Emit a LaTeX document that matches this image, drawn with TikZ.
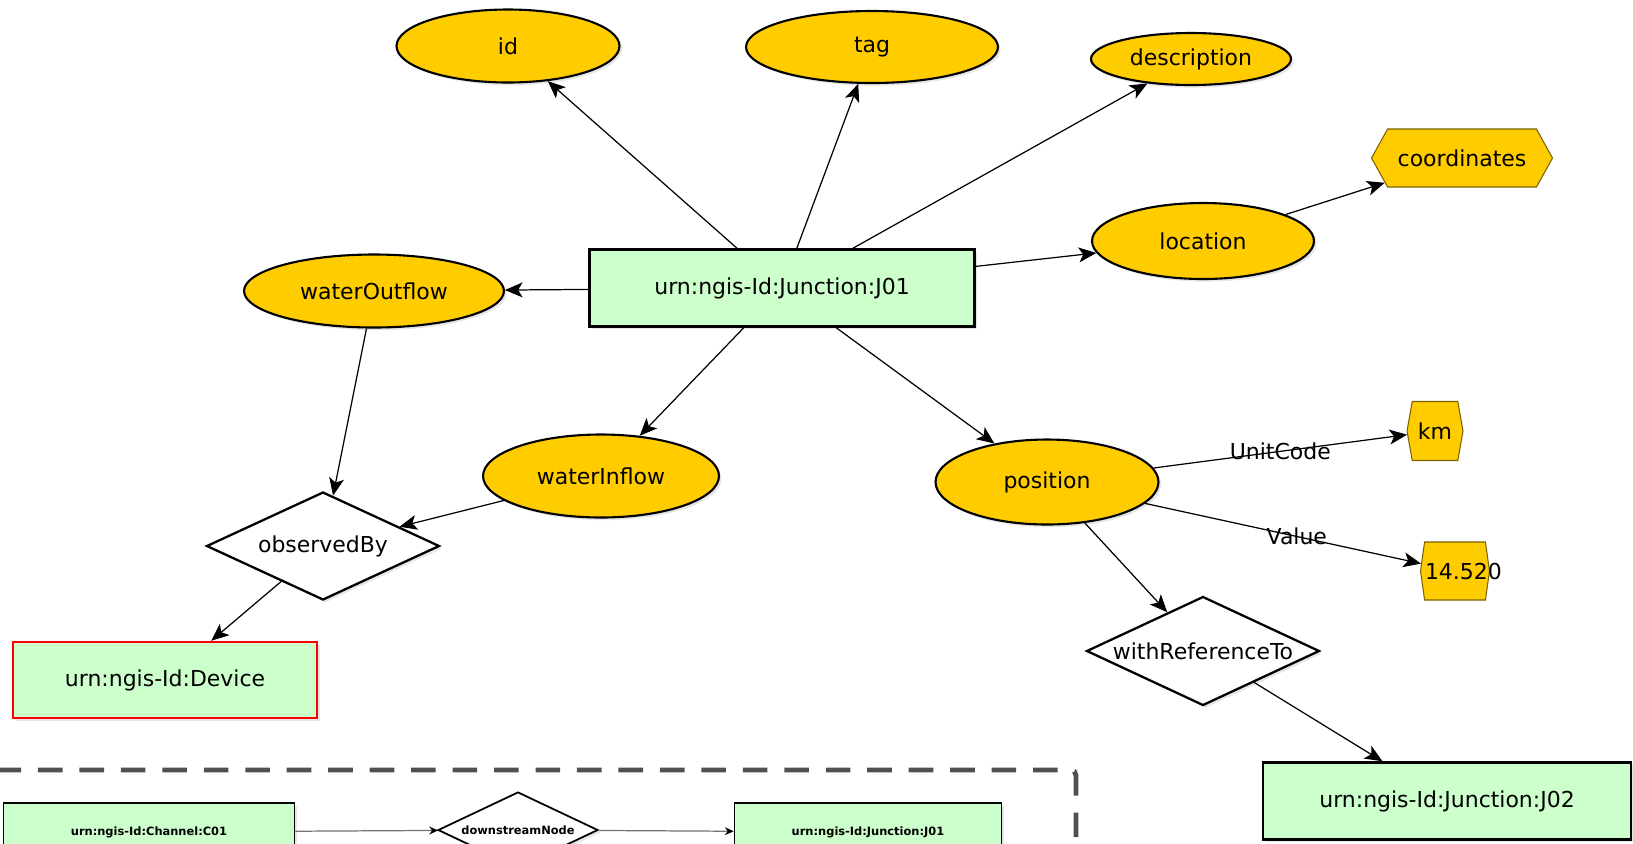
\documentclass[tikz,border=0pt]{standalone}
\usepackage{fontspec}
\setmainfont{DejaVu Sans}
\usetikzlibrary{shapes.geometric, shapes.symbols, arrows.meta, shadows}

\definecolor{attrgold}{HTML}{FFCC00}
\definecolor{entgreen}{HTML}{CCFFCC}
\definecolor{hexline}{HTML}{7A6200}
\definecolor{boxgray}{HTML}{505050}

\tikzset{
  softshadow/.style={drop shadow={opacity=0.2, shadow xshift=1.5pt, shadow yshift=-1.5pt}},
  attr/.style={ellipse, draw=black, line width=1.2pt, fill=attrgold, inner sep=0pt, softshadow},
  entity/.style={rectangle, draw=black, line width=1.4pt, fill=entgreen, inner sep=0pt, softshadow},
  relbox/.style={diamond, aspect=2.15, draw=black, line width=1.3pt, fill=white, inner sep=0pt, softshadow},
  unitbox/.style={signal, signal to=east and west, draw=hexline, line width=0.6pt, fill=attrgold, inner sep=0pt},
  link/.style={-{Stealth[length=10pt, width=8.5pt, inset=2.5pt]}, line width=0.7pt},
  smalllink/.style={-{Stealth[length=5pt, width=4.5pt, black]}, draw=black!55, line width=0.7pt},
  small/.style={font=\fontsize{6.5}{8}\selectfont\bfseries},
}

\begin{document}
\begin{tikzpicture}[x=0.02cm, y=-0.02cm, every node/.style={font=\fontsize{12.5}{15}\selectfont}]
\useasboundingbox (0,0) rectangle (1633,843);
\clip (0,0) rectangle (1633,843);

% Nodo central
\node[entity, minimum width=7.7cm, minimum height=1.54cm] (j01) at (782,288) {urn:ngis-Id:Junction:J01};

% Atributos
\node[attr, minimum width=4.46cm, minimum height=1.46cm] (id) at (508,46) {id};
\node[attr, minimum width=5.04cm, minimum height=1.44cm] (tag) at (872,47) {tag};
\node[attr, minimum width=4.0cm, minimum height=1.04cm] (description) at (1191,59) {description};
\node[attr, minimum width=4.44cm, minimum height=1.52cm] (location) at (1203,241) {location};
\node[unitbox, signal pointer angle=122, minimum width=3.62cm, minimum height=1.16cm] (coordinates) at (1462,158) {coordinates};
\node[attr, minimum width=5.2cm, minimum height=1.46cm] (outflow) at (374,291) {waterOutflow};
\node[attr, minimum width=4.72cm, minimum height=1.66cm] (inflow) at (601,476) {waterInflow};
\node[attr, minimum width=4.46cm, minimum height=1.7cm] (position) at (1047,482) {position};

% Unidad y valor
\node[unitbox, signal pointer angle=160, minimum width=1.12cm, minimum height=1.18cm] (km) at (1435,431) {km};
\node[unitbox, signal pointer angle=164, minimum width=1.38cm, minimum height=1.16cm] (value) at (1455,571) {\makebox[0pt][l]{\hspace{-0.6cm}14.520}};

% Relaciones
\node[relbox, minimum width=4.66cm, minimum height=2.16cm] (observed) at (323,546) {observedBy};
\node[relbox, minimum width=4.66cm, minimum height=2.18cm] (withref) at (1203,651) {\makebox[0pt]{withReferenceTo}};
\node[entity, draw=red, minimum width=6.08cm, minimum height=1.52cm] (device) at (165,680) {urn:ngis-Id:Device};
\node[entity, minimum width=7.36cm, minimum height=1.54cm] (j02) at (1447,801) {urn:ngis-Id:Junction:J02};

% Flechas
\draw[link] (j01) -- (id);
\draw[link] (j01) -- (tag);
\draw[link] (j01) -- (description);
\draw[link] (j01) -- (location);
\draw[link] (location) -- (coordinates);
\draw[link] (j01) -- (outflow);
\draw[link] (j01) -- (inflow);
\draw[link] (j01) -- (position);
\draw[link] (outflow) -- (observed);
\draw[link] (inflow) -- (observed);
\draw[link] (observed) -- (device);
\draw[link] (position) -- node[pos=0.5] {UnitCode} (km);
\draw[link] (position) -- node[pos=0.55] {Value} (value);
\draw[link] (position) -- (withref);
\draw[link] (withref) -- (j02);

% Recuadro inferior (discontinuo)
\draw[boxgray, line width=2.8pt, dash pattern=on 14pt off 9.6pt, dash phase=2pt, rounded corners=3pt] (0,770) -- (1076,770) -- (1076,900);
\node[entity, line width=1pt, minimum width=5.82cm, minimum height=1.16cm, small] (channel) at (149,832) {urn:ngis-Id:Channel:C01};
\node[relbox, line width=1pt, minimum width=3.2cm, minimum height=1.52cm, small] (downstream) at (518,830) {downstreamNode};
\node[entity, line width=1pt, minimum width=5.34cm, minimum height=1.16cm, small] (j01b) at (868,832) {urn:ngis-Id:Junction:J01};
\draw[smalllink] (channel) -- (downstream);
\draw[smalllink] (downstream) -- (j01b);
\end{tikzpicture}
\end{document}
